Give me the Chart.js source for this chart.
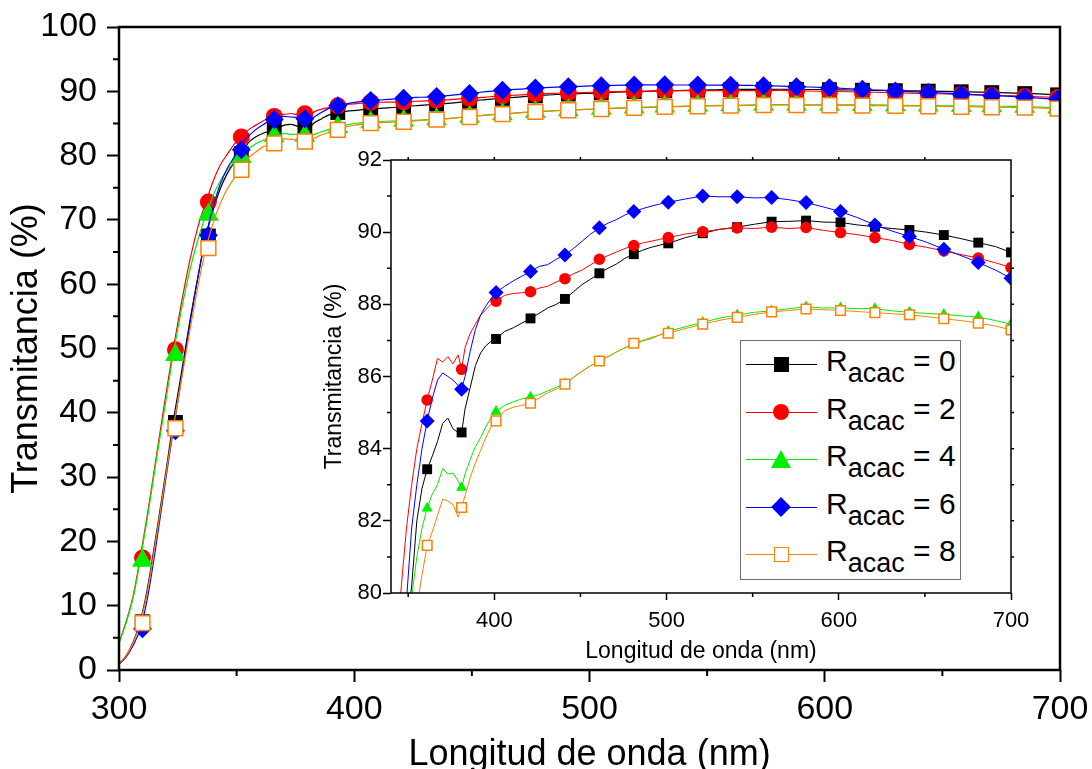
<!DOCTYPE html>
<html><head><meta charset="utf-8">
<script src="https://cdn.jsdelivr.net/npm/chart.js@4.4.1/dist/chart.umd.min.js"></script>
<style>
body{margin:0;background:#fff;width:1092px;height:769px;overflow:hidden;position:relative;font-family:"Liberation Sans",Arial,sans-serif}
#main{position:absolute;left:0;top:0}
#inset{position:absolute;left:300px;top:130px}
#legend{position:absolute;left:740px;top:340px;width:221px;height:240px;box-sizing:border-box;border:1.5px solid #707070;background:#fff}
.row{position:absolute;left:0;width:218px;height:47px}
.ln{position:absolute;left:5px;width:71px;height:1.3px;top:23px}
.mk{position:absolute}
.tx{position:absolute;left:85px;top:5px;font-size:30px;line-height:30px;white-space:nowrap;color:#000}
.tx sub{font-size:27px;vertical-align:-11px;line-height:0}
</style></head><body>
<canvas id="main" width="1092" height="769"></canvas>
<canvas id="inset" width="740" height="540"></canvas>
<div id="legend"></div>
<script>
// ---------------- data ----------------
const WL = [300,303,306,309,312,316,320,323,326,330,334,337,340,343,346,349,352,355,358,361,
  364,367,370,373,376,379,381,383,386,389,392,395,398,401,
  406,411,416,421,426,431,436,441,446,451,456,461,466,471,476,481,486,491,496,501,
  511,521,531,541,551,561,571,581,591,601,611,621,631,641,651,661,671,681,691,700];

const T_R0 = [1.0,2.2,4.3,7.5,12.5,21.5,31.0,38.5,45.0,54.0,62.0,67.5,71.5,74.8,77.2,78.9,80.2,82.0,82.9,83.43,
  83.8,84.2,84.7,84.85,84.55,84.45,84.45,85.1,85.7,86.3,86.65,86.85,86.97,87.04,
  87.25,87.35,87.48,87.61,87.75,87.9,88.0,88.15,88.35,88.55,88.7,88.86,89.0,89.12,89.28,89.39,89.5,89.58,89.64,89.69,
  89.85,89.97,90.08,90.14,90.22,90.29,90.3,90.32,90.28,90.27,90.2,90.15,90.1,90.06,90.0,89.92,89.82,89.71,89.6,
  89.44];
const T_R2 = [4.2,7.5,11.5,17.4,24.0,33.5,43.0,49.8,56.0,63.5,69.5,72.8,76.0,78.5,80.2,81.8,83.0,84.0,84.7,85.35,
  85.9,86.5,86.4,86.55,86.35,86.6,86.2,86.8,87.2,87.45,87.7,87.85,88.0,88.09,
  88.25,88.3,88.32,88.35,88.45,88.5,88.62,88.71,88.85,88.95,89.1,89.25,89.35,89.45,89.55,89.63,89.7,89.75,89.8,89.85,
  89.95,90.01,90.08,90.12,90.1,90.14,90.1,90.13,90.05,89.99,89.93,89.85,89.77,89.66,89.58,89.48,89.38,89.28,89.15,
  89.02];
const T_R4 = [4.2,7.3,11.2,17.0,23.5,33.0,42.0,49.0,55.0,62.0,67.5,70.8,73.8,76.0,77.8,79.0,79.9,81.0,81.8,82.35,
  82.75,83.0,83.45,83.3,83.32,83.1,82.92,83.3,83.7,84.05,84.3,84.6,84.85,85.03,
  85.2,85.3,85.38,85.43,85.5,85.6,85.7,85.8,85.98,86.15,86.3,86.42,86.55,86.68,86.8,86.88,86.98,87.05,87.15,87.25,
  87.38,87.5,87.62,87.7,87.78,87.82,87.88,87.93,87.9,87.9,87.88,87.88,87.82,87.78,87.75,87.72,87.68,87.65,87.55,
  87.45];
const T_R6 = [0.9,2.0,3.8,6.4,11.0,20.0,30.0,37.2,44.0,53.5,62.0,67.6,72.0,75.5,78.0,79.8,81.8,83.0,84.0,84.77,
  85.4,85.9,86.1,86.0,85.9,85.75,85.65,86.0,86.7,87.3,87.7,87.95,88.15,88.33,
  88.5,88.65,88.78,88.91,89.05,89.1,89.25,89.37,89.55,89.75,89.95,90.12,90.25,90.35,90.48,90.57,90.65,90.72,90.78,90.83,
  90.92,91.0,90.98,90.98,90.95,90.96,90.9,90.82,90.7,90.57,90.4,90.2,90.03,89.88,89.72,89.53,89.35,89.16,88.95,
  88.72];
const T_R8 = [1.0,2.2,4.2,7.3,12.0,21.0,30.5,37.6,44.0,52.5,60.5,65.6,69.5,72.5,74.8,76.5,78.2,79.6,80.5,81.32,
  81.7,82.15,82.6,82.55,82.45,82.1,82.37,82.7,83.2,83.6,83.95,84.3,84.6,84.77,
  85.05,85.15,85.2,85.26,85.4,85.55,85.65,85.79,85.98,86.15,86.3,86.43,86.55,86.68,86.8,86.92,87.0,87.08,87.15,87.2,
  87.33,87.45,87.56,87.64,87.72,87.79,87.83,87.87,87.85,87.83,87.8,87.77,87.74,87.71,87.66,87.6,87.55,87.48,87.4,
  87.29];

// symbols of the main plot (every ~14 nm)
const MAIN_MARK_WL = [310,324,338,352,366,379,393,407,421,435,449,463,477,491,505,519,532,546,560,574,588,602,616,630,644,658,671,685,699];
const MAIN_MARK_R0 = [7.5,38.5,67.5,80.3,84.2,84.45,86.7,87.3,87.6,88.0,88.45,88.9,89.3,89.58,89.75,89.95,90.08,90.18,90.28,90.31,90.3,90.26,90.17,90.1,90.03,89.93,89.8,89.65,89.45];
const MAIN_MARK_R2 = [17.4,49.8,72.8,82.9,86.1,86.5,87.75,88.28,88.35,88.6,88.9,89.28,89.55,89.75,89.88,90.0,90.08,90.12,90.14,90.12,90.08,89.98,89.87,89.76,89.62,89.5,89.36,89.2,89.02];
const MAIN_MARK_R4 = [17.0,49.0,70.8,79.8,83.0,83.1,84.4,85.2,85.43,85.65,86.05,86.45,86.78,87.05,87.28,87.47,87.62,87.74,87.82,87.9,87.92,87.9,87.88,87.82,87.78,87.73,87.68,87.6,87.47];
const MAIN_MARK_R6 = [6.4,37.2,67.6,80.9,85.6,85.75,87.75,88.55,88.91,89.2,89.65,90.15,90.5,90.72,90.86,90.98,91.0,90.98,90.96,90.88,90.72,90.55,90.3,90.05,89.8,89.55,89.3,89.05,88.75];
const MAIN_MARK_R8 = [7.3,37.6,65.6,77.8,81.9,82.2,84.0,85.05,85.26,85.6,86.0,86.45,86.8,87.05,87.25,87.42,87.57,87.67,87.78,87.84,87.86,87.83,87.78,87.73,87.67,87.6,87.52,87.45,87.3];

// symbols of the inset (every 20 nm)
const INSET_MARK_WL = [361,381,401,421,441,461,481,501,521,541,561,581,601,621,641,661,681,700];

const LEGEND_VALUES = ['0','2','4','6','8'];
const X_TITLE = 'Longitud de onda (nm)';
const Y_TITLE = 'Transmitancia (%)';

// ---------------- styles ----------------
const FONT = "'Liberation Sans', Arial, sans-serif";
Chart.defaults.color = '#000';
Chart.defaults.font.family = FONT;

const SERIES = [
  {vals: T_R0, marks: MAIN_MARK_R0, color: '#000000', style: 'rect', fill: '#000000', rMain: 10.5, rInset: 7, bw: 0},
  {vals: T_R2, marks: MAIN_MARK_R2, color: '#ff0000', style: 'circle', fill: '#ff0000', rMain: 8.5, rInset: 5.8, bw: 0},
  {vals: T_R4, marks: MAIN_MARK_R4, color: '#00ee00', style: 'triangle', fill: '#00ee00', rMain: 12, rInset: 6.4, bw: 0},
  {vals: T_R6, marks: MAIN_MARK_R6, color: '#0000ff', style: 'rectRot', fill: '#0000ff', rMain: 9.5, rInset: 7.5, bw: 0},
  {vals: T_R8, marks: MAIN_MARK_R8, color: '#ff8000', style: 'rect', fill: '#ffffff', rMain: 10.5, rInset: 6.8, bw: 1.5}
];

const framePlugin = {
  id: 'frame',
  afterDraw(chart, args, o) {
    const {ctx, chartArea: a, scales: {x, y}} = chart;
    ctx.save();
    ctx.strokeStyle = '#000';
    ctx.lineWidth = o.frameWidth;
    ctx.strokeRect(a.left, a.top, a.right - a.left, a.bottom - a.top);
    ctx.lineWidth = o.tickWidth;
    ctx.beginPath();
    for (const v of o.xMinor) { const p = x.getPixelForValue(v); ctx.moveTo(p, a.bottom); ctx.lineTo(p, a.bottom + o.minorLen); }
    for (const v of o.yMinor) { const p = y.getPixelForValue(v); ctx.moveTo(a.left, p); ctx.lineTo(a.left - o.minorLen, p); }
    if (o.mirrorLen) {
      for (const v of o.xMinor.concat(o.xMajor)) { const p = x.getPixelForValue(v); ctx.moveTo(p, a.top); ctx.lineTo(p, a.top - o.mirrorLen); }
      for (const v of o.yMinor.concat(o.yMajor)) { const p = y.getPixelForValue(v); ctx.moveTo(a.right, p); ctx.lineTo(a.right + o.mirrorLen, p); }
    }
    ctx.stroke();
    ctx.restore();
  }
};

// ---------------- main chart ----------------
const mainDatasets = [];
SERIES.forEach((s, i) => {
  mainDatasets.push({
    data: WL.map((w, k) => ({x: w, y: s.vals[k]})),
    borderColor: s.color, borderWidth: 1.2, pointRadius: 0,
    cubicInterpolationMode: 'monotone', order: 2 * (4 - i) + 2
  });
  mainDatasets.push({
    data: MAIN_MARK_WL.map((w, k) => ({x: w, y: s.marks[k]})),
    showLine: false, pointStyle: s.style, pointRadius: s.rMain,
    pointBackgroundColor: s.fill, pointBorderColor: s.color, pointBorderWidth: s.bw,
    order: 2 * (4 - i) + 1
  });
});

new Chart(document.getElementById('main'), {
  type: 'line',
  data: {datasets: mainDatasets},
  options: {
    responsive: false, animation: false, events: [],
    layout: {padding: {top: 27, right: 32, left: 0, bottom: 0}},
    plugins: {
      legend: {display: false}, tooltip: {enabled: false},
      frame: {frameWidth: 2.5, tickWidth: 2, minorLen: 6,
        xMinor: [350, 450, 550, 650], yMinor: [5,15,25,35,45,55,65,75,85,95], xMajor: [], yMajor: [], mirrorLen: 0}
    },
    scales: {
      x: {
        type: 'linear', min: 300, max: 700,
        border: {display: false},
        grid: {drawOnChartArea: false, drawTicks: true, tickLength: 12, tickWidth: 2, tickColor: '#000'},
        ticks: {stepSize: 100, padding: 7, font: {size: 34}, maxRotation: 0},
        title: {display: true, text: X_TITLE, font: {size: 36}, padding: {top: 0, bottom: -8}},
        afterFit(s) { s.height = 99; s.paddingLeft = 0; s.paddingRight = 0; }
      },
      y: {
        type: 'linear', min: 0, max: 100,
        border: {display: false},
        grid: {drawOnChartArea: false, drawTicks: true, tickLength: 12, tickWidth: 2, tickColor: '#000'},
        ticks: {stepSize: 10, padding: 10, font: {size: 34}},
        title: {display: true, text: Y_TITLE, font: {size: 36}, padding: {top: 5, bottom: 0}},
        afterFit(s) { s.width = 119; s.paddingTop = 0; s.paddingBottom = 0; }
      }
    }
  },
  plugins: [framePlugin]
});

// ---------------- inset chart ----------------
const insetDatasets = SERIES.map((s, i) => ({
  data: WL.map((w, k) => ({x: w, y: s.vals[k]})),
  borderColor: s.color, borderWidth: 1, tension: 0,
  pointStyle: s.style,
  pointRadius: (c) => INSET_MARK_WL.includes(WL[c.dataIndex]) ? s.rInset : 0,
  pointBackgroundColor: s.fill, pointBorderColor: s.color, pointBorderWidth: s.bw,
  order: 5 - i
}));

new Chart(document.getElementById('inset'), {
  type: 'line',
  data: {datasets: insetDatasets},
  options: {
    responsive: false, animation: false, events: [],
    layout: {padding: {top: 30, right: 29, left: 0, bottom: 0}},
    plugins: {
      legend: {display: false}, tooltip: {enabled: false},
      frame: {frameWidth: 1.5, tickWidth: 1.5, minorLen: 4,
        xMinor: [350, 450, 550, 650], yMinor: [81, 83, 85, 87, 89, 91],
        xMajor: [400, 500, 600], yMajor: [82, 84, 86, 88, 90], mirrorLen: 3}
    },
    scales: {
      x: {
        type: 'linear', min: 340, max: 700,
        border: {display: false},
        grid: {drawOnChartArea: false, drawTicks: true, tickLength: 7, tickWidth: 1.5, tickColor: '#000'},
        ticks: {stepSize: 100, includeBounds: false, padding: 8, font: {size: 22}, maxRotation: 0},
        title: {display: true, text: X_TITLE, font: {size: 23}, padding: {top: 0, bottom: 5}},
        afterFit(s) { s.height = 77; s.paddingLeft = 0; s.paddingRight = 0; }
      },
      y: {
        type: 'linear', min: 80, max: 92,
        border: {display: false},
        grid: {drawOnChartArea: false, drawTicks: true, tickLength: 8, tickWidth: 1.5, tickColor: '#000'},
        ticks: {stepSize: 2, padding: 1, font: {size: 22}},
        title: {display: true, text: Y_TITLE, font: {size: 23}, padding: {top: 21, bottom: 0}},
        afterFit(s) { s.width = 91; s.paddingTop = 0; s.paddingBottom = 0; }
      }
    }
  },
  plugins: [framePlugin]
});

// ---------------- legend (HTML) ----------------
const legend = document.getElementById('legend');
SERIES.forEach((s, i) => {
  const row = document.createElement('div');
  row.className = 'row';
  row.style.top = (47.5 * i) + 'px';
  const ln = document.createElement('div');
  ln.className = 'ln'; ln.style.background = s.color;
  row.appendChild(ln);
  const mk = document.createElement('div');
  mk.className = 'mk';
  const cx = 40, cy = 23.5;
  if (s.style === 'rect') {
    const sz = 15;
    Object.assign(mk.style, {left: (cx - sz/2) + 'px', top: (cy - sz/2) + 'px', width: sz + 'px', height: sz + 'px',
      background: s.fill, border: s.bw ? ('1.5px solid ' + s.color) : 'none', boxSizing: 'border-box'});
  } else if (s.style === 'circle') {
    Object.assign(mk.style, {left: (cx - 8) + 'px', top: (cy - 8) + 'px', width: '16px', height: '16px', borderRadius: '50%', background: s.fill});
  } else if (s.style === 'triangle') {
    Object.assign(mk.style, {left: (cx - 10.5) + 'px', top: (cy - 10) + 'px', width: 0, height: 0,
      borderLeft: '10.5px solid transparent', borderRight: '10.5px solid transparent', borderBottom: '18px solid ' + s.fill});
  } else if (s.style === 'rectRot') {
    Object.assign(mk.style, {left: (cx - 7) + 'px', top: (cy - 7) + 'px', width: '14px', height: '14px', background: s.fill, transform: 'rotate(45deg)'});
  }
  row.appendChild(mk);
  const tx = document.createElement('div');
  tx.className = 'tx';
  tx.innerHTML = 'R<sub>acac</sub> = ' + LEGEND_VALUES[i];
  row.appendChild(tx);
  legend.appendChild(row);
});
</script>
</body></html>
